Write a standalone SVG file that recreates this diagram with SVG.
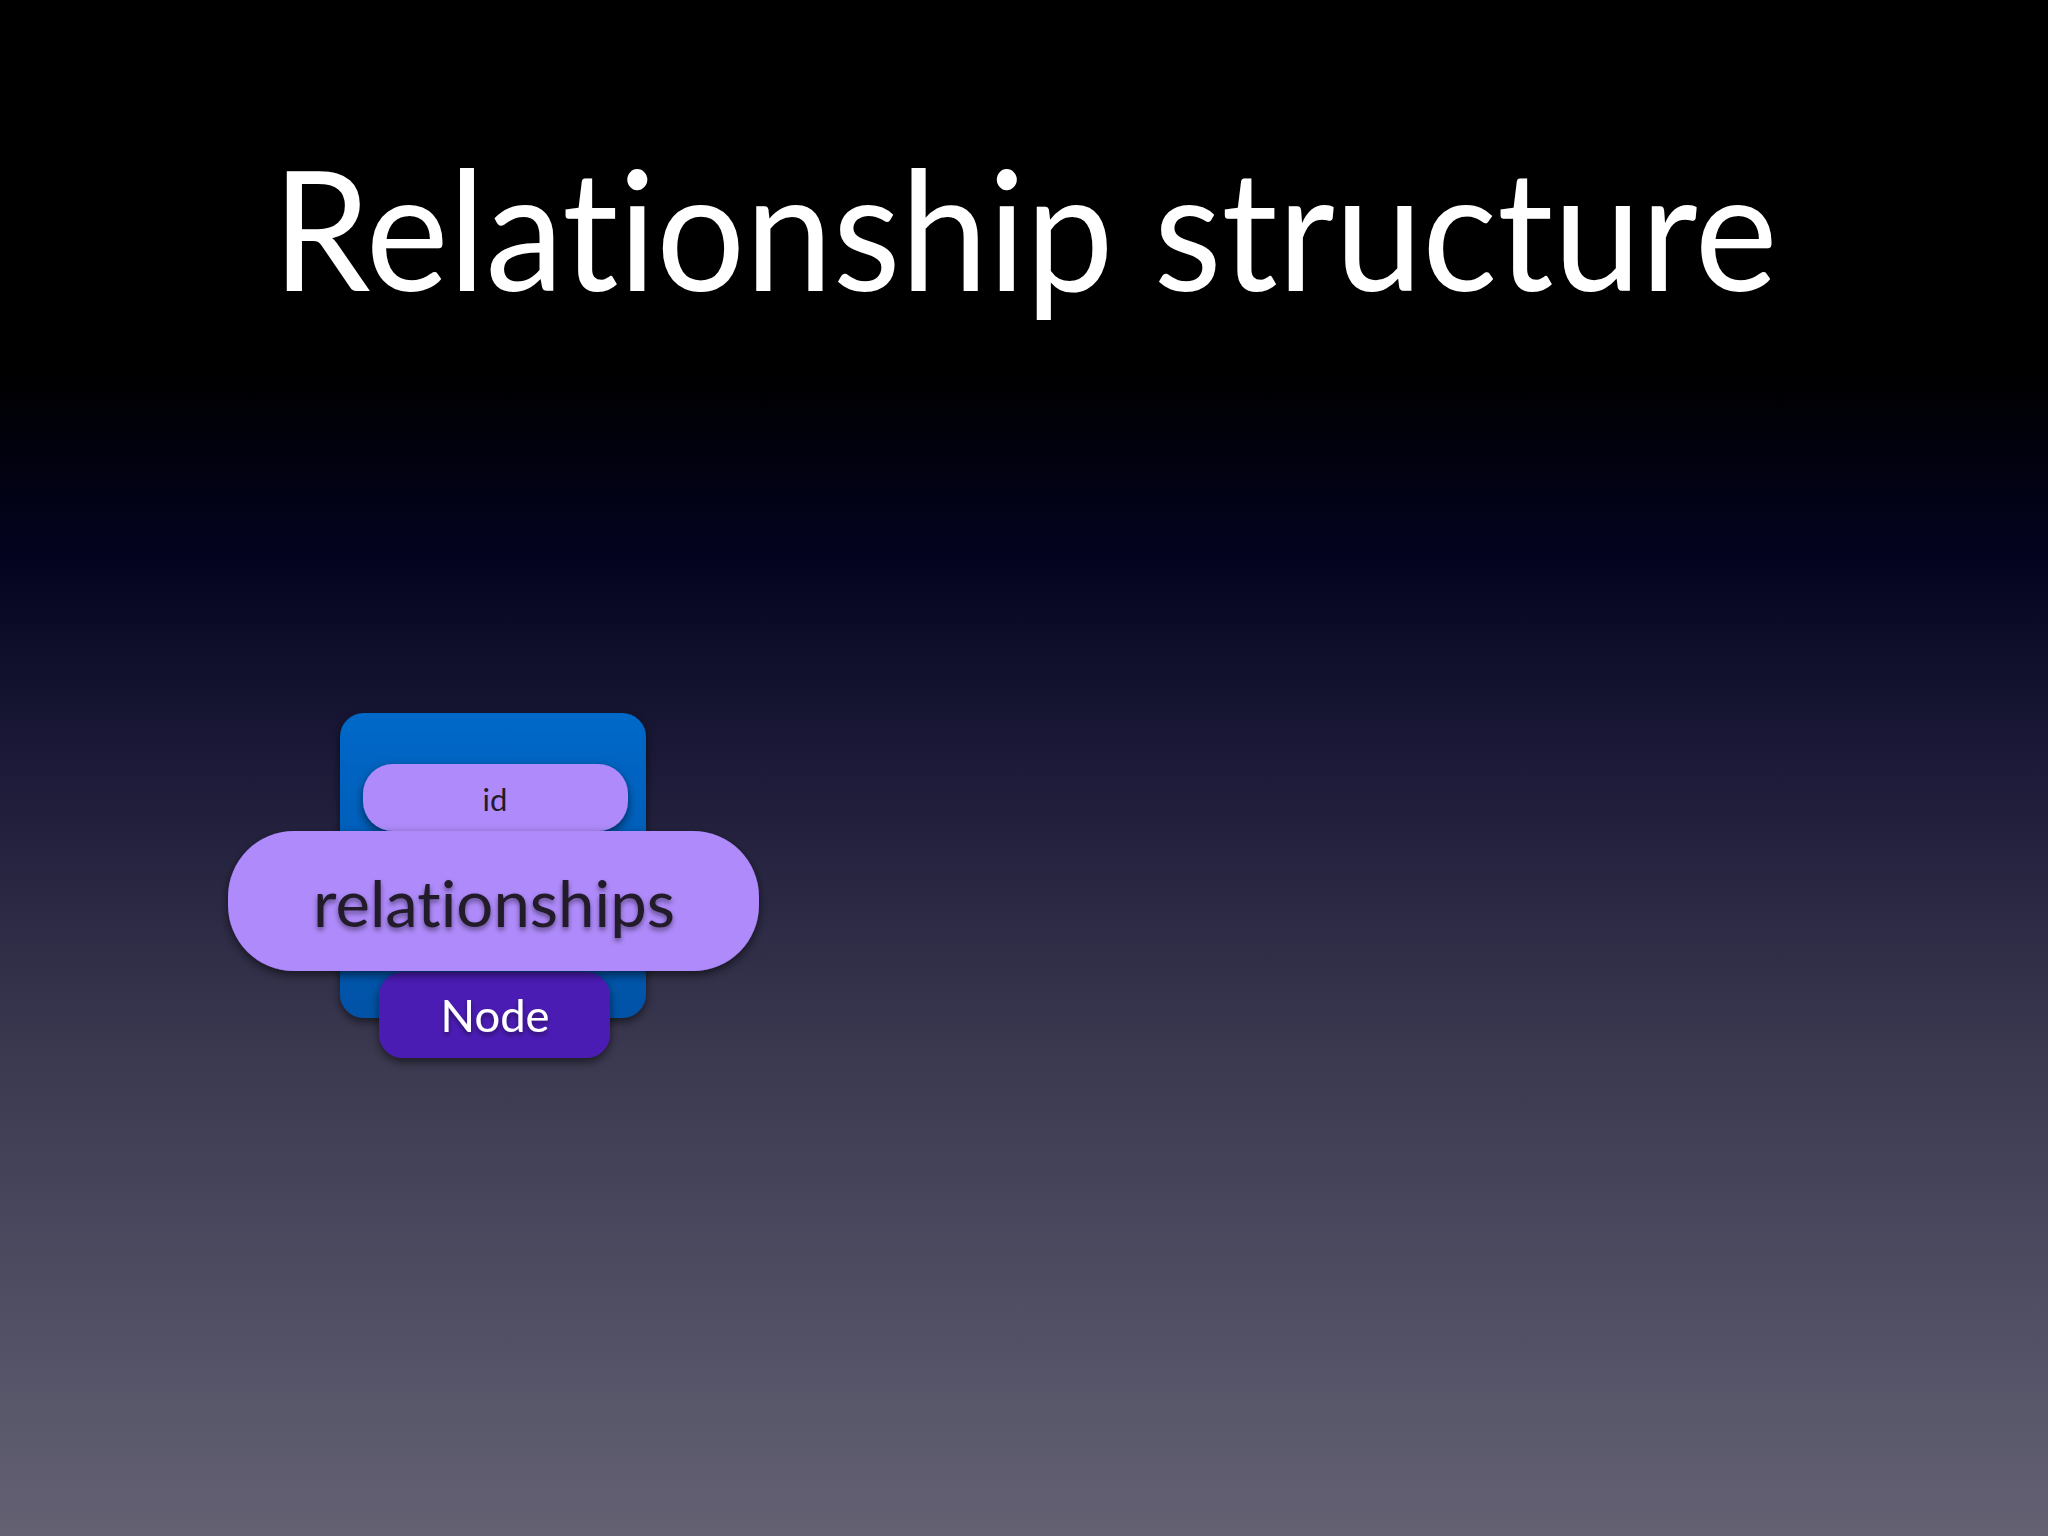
<svg xmlns="http://www.w3.org/2000/svg" width="2048" height="1536" viewBox="0 0 2048 1536">
  <defs>
    <linearGradient id="bg" x1="0" y1="0" x2="0" y2="1">
      <stop offset="0" stop-color="#000000"/>
      <stop offset="0.24" stop-color="#000000"/>
      <stop offset="0.36" stop-color="#03031f"/>
      <stop offset="0.5" stop-color="#1c1a38"/>
      <stop offset="0.68" stop-color="#3a384f"/>
      <stop offset="0.85" stop-color="#504e63"/>
      <stop offset="1" stop-color="#636172"/>
    </linearGradient>
    <linearGradient id="blue" x1="0" y1="0" x2="0" y2="1">
      <stop offset="0" stop-color="#0068c8"/>
      <stop offset="1" stop-color="#0052a6"/>
    </linearGradient>
    <filter id="sh" x="-20%" y="-20%" width="140%" height="150%">
      <feDropShadow dx="0" dy="4" stdDeviation="5" flood-color="#000" flood-opacity="0.55"/>
    </filter>
    <filter id="tsh" x="-10%" y="-20%" width="120%" height="150%">
      <feDropShadow dx="0" dy="3" stdDeviation="2.5" flood-color="#000" flood-opacity="0.45"/>
    </filter>
  </defs>
  <style>
    .lbl { font-family: Lato, "Open Sans", "Liberation Sans", sans-serif; text-anchor: middle; font-variant-ligatures: none; font-feature-settings: "liga" 0, "clig" 0; }
    .lav { fill: #ae8afa; }
    .dark { fill: #231a2a; }
  </style>
  <rect x="0" y="0" width="2048" height="1536" fill="url(#bg)"/>
  <text x="1025" y="291" class="lbl" font-size="166" fill="#ffffff" textLength="1505" lengthAdjust="spacingAndGlyphs">Relationship structure</text>

  <g id="relationship-struct">
    <rect x="340" y="713" width="306" height="305" rx="24" fill="url(#blue)" filter="url(#sh)"/>
  </g>
  <g id="node-id">
    <rect x="363" y="764" width="265" height="67" rx="30" class="lav" filter="url(#sh)"/>
    <text x="495" y="811" class="lbl dark" font-size="31">id</text>
  </g>
  <g id="node-node">
    <rect x="379" y="972" width="231" height="86" rx="24" fill="#4b1fb4" filter="url(#sh)"/>
    <text x="495" y="1032" class="lbl" font-size="45" fill="#ffffff" textLength="109" lengthAdjust="spacingAndGlyphs" filter="url(#tsh)">Node</text>
  </g>
  <g id="node-relationships">
    <rect x="228" y="831" width="531" height="140" rx="66" class="lav" filter="url(#sh)"/>
    <text x="494" y="927" class="lbl dark" font-size="64" textLength="362" lengthAdjust="spacingAndGlyphs" filter="url(#tsh)">relationships</text>
  </g>
  <g id="connectors"></g>
</svg>
